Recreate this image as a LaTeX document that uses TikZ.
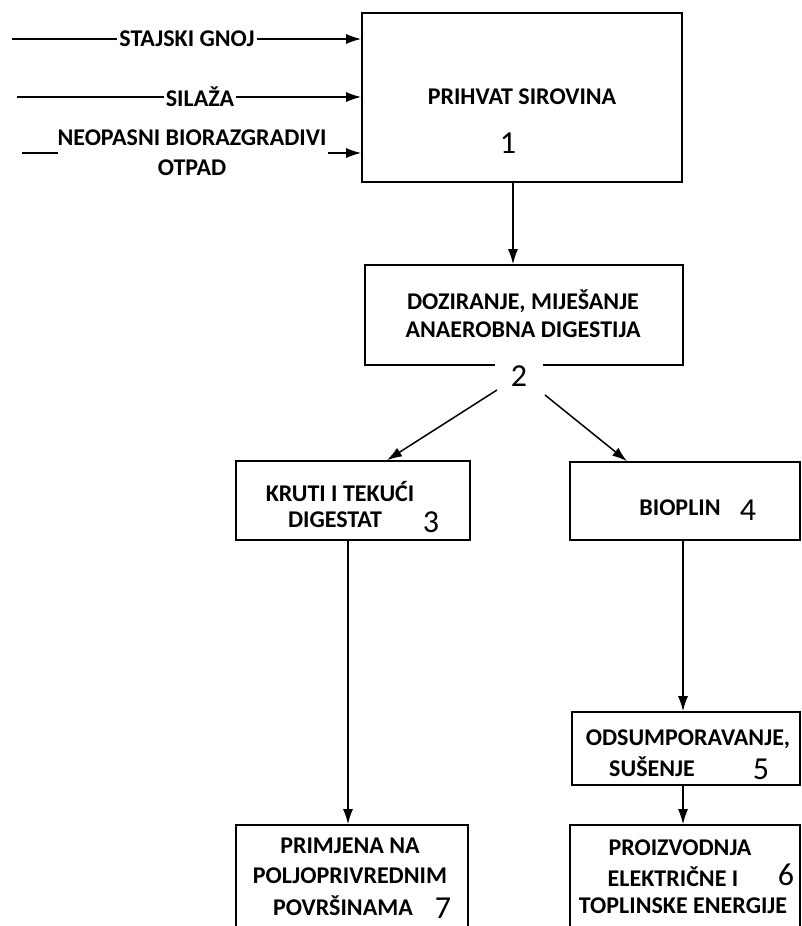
\documentclass[tikz,border=0pt]{standalone}
\usepackage{fontspec}
\setmainfont{Carlito}
\usetikzlibrary{arrows.meta}
\tikzset{
  box/.style={draw, line width=1.6pt, rectangle, inner sep=0pt},
  lbl/.style={font=\fontsize{24}{28}\selectfont\bfseries, inner sep=1pt, align=center},
  num/.style={font=\fontsize{32}{34}\selectfont, inner sep=1pt},
  arr/.style={line width=1.5pt, -{Latex[length=15pt,width=10pt]}},
  ln/.style={line width=1.5pt}
}
\begin{document}
\begin{tikzpicture}[x=1pt,y=-1pt]
\clip (0,0) rectangle (802,926);
\fill[white] (0,0) rectangle (802,926);
% boxes
\node[box, minimum width=320pt, minimum height=169pt] (b1) at (522,97.5) {};
\node[box, minimum width=318pt, minimum height=100pt] (b2) at (524,315) {};
\node[box, minimum width=234pt, minimum height=79pt] (b3) at (353,500.5) {};
\node[box, minimum width=230pt, minimum height=78pt] (b4) at (685,501) {};
\node[box, minimum width=228pt, minimum height=73pt] (b5) at (686,748.5) {};
\node[box, minimum width=230pt, minimum height=114pt] (b6) at (685,882) {};
\node[box, minimum width=232pt, minimum height=114pt] (b7) at (352,882) {};
% box texts
\node[lbl] (t1) at (522,97) {PRIHVAT SIROVINA};
\node[num] (n1) at (508,143) {1};
\node[lbl] (t2) at (523,314) {DOZIRANJE, MIJEŠANJE\\ANAEROBNA DIGESTIJA};
\node[num, fill=white, inner xsep=16pt, inner ysep=4pt] (n2) at (519,376) {2};
\node[lbl] (t3a) at (340,492) {KRUTI I TEKUĆI};
\node[lbl] (t3b) at (335,520) {DIGESTAT};
\node[num] (n3) at (431,522) {3};
\node[lbl] (t4) at (680,508) {BIOPLIN};
\node[num] (n4) at (748,510) {4};
\node[lbl] (t5a) at (688,739) {ODSUMPORAVANJE,};
\node[lbl] (t5b) at (652,767) {SUŠENJE};
\node[num] (n5) at (761,769) {5};
\node[lbl] (t7a) at (350,846) {PRIMJENA NA};
\node[lbl] (t7b) at (350,876) {POLJOPRIVREDNIM};
\node[lbl] (t7c) at (343,906) {POVRŠINAMA};
\node[num] (n7) at (443,908) {7};
\node[lbl] (t6a) at (680,848) {PROIZVODNJA};
\node[lbl] (t6b) at (673,877) {ELEKTRIČNE I};
\node[lbl] (t6c) at (683,906) {TOPLINSKE ENERGIJE};
\node[num] (n6) at (786,875) {6};
% inputs
\coordinate (s1) at (12,39);
\coordinate (s2) at (17,97);
\coordinate (s3) at (22,153);
\coordinate (s3e) at (58,153);
\coordinate (s3r) at (328,153);
\draw[arr] (s1) -- (s1 -| b1.west);
\draw[arr] (s2) -- (s2 -| b1.west);
\draw[ln] (s3) -- (s3e);
\draw[arr] (s3r) -- (s3r -| b1.west);
\node[lbl, fill=white, inner xsep=2pt] (i1) at (187,39) {STAJSKI GNOJ};
\node[lbl, fill=white, inner xsep=2pt] (i2) at (200,97) {SILAŽA};
\node[lbl, font=\fontsize{24}{30}\selectfont\bfseries] (i3) at (192,153) {NEOPASNI BIORAZGRADIVI\\OTPAD};
% flow
\draw[arr] ([xshift=-9pt]b1.south) -- ([xshift=-9pt]b1.south |- b2.north);
\coordinate (c2l) at (497,390);
\coordinate (c2r) at (545,395);
\draw[arr] (c2l) -- (b3.north -| 387,0);
\draw[arr] (c2r) -- (b4.north -| 627,0);
\draw[arr] ([xshift=-5pt]b3.south) -- ([xshift=-5pt]b3.south |- b7.north);
\draw[arr] ([xshift=-2pt]b4.south) -- ([xshift=-2pt]b4.south |- b5.north);
\draw[arr] ([xshift=-3pt]b5.south) -- ([xshift=-3pt]b5.south |- b6.north);
\end{tikzpicture}
\end{document}
